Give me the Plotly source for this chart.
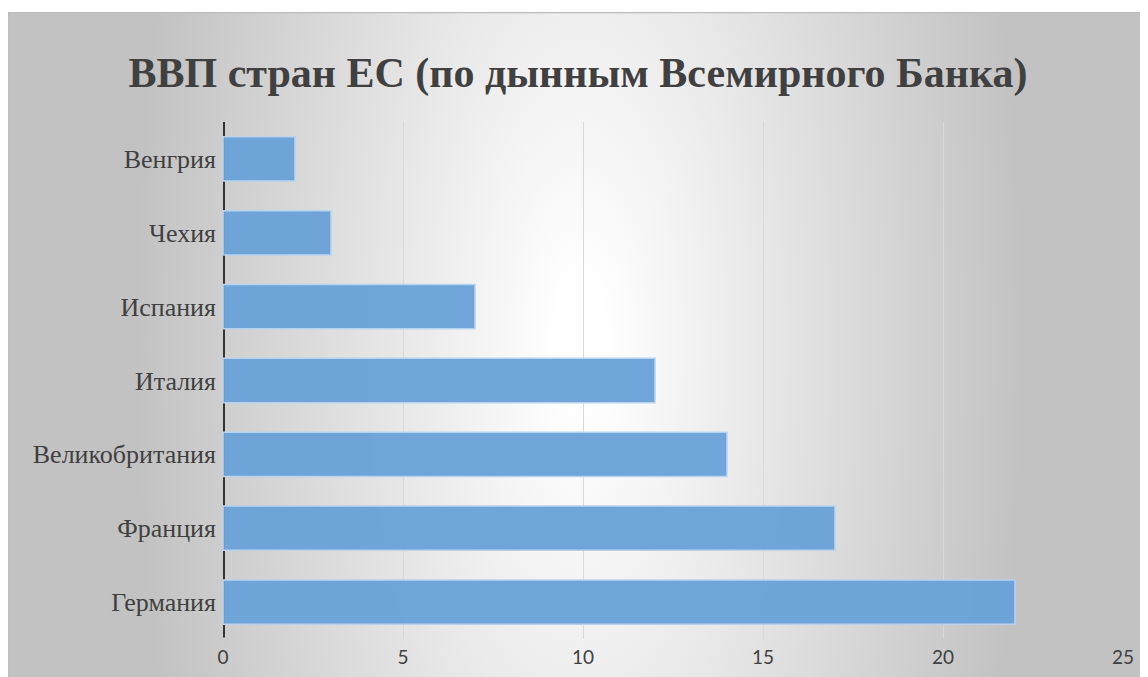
import base64
import plotly.graph_objects as go

countries = ["Германия", "Франция", "Великобритания", "Италия", "Испания", "Чехия", "Венгрия"]
gdp = [22, 17, 14, 12, 7, 3, 2]
x_ticks = [0, 5, 10, 15, 20, 25]
title_text = "ВВП стран ЕС (по дынным Всемирного Банка)"

W, H = 1148, 677
ML, MT, MB = 215, 114, 46
PW = 900
MR = W - ML - PW
PH = H - MT - MB

# background: elliptical radial gradient panel
BX, BY = 0, 4
BW, BH = W - BX, H - BY
svg = f'''<svg xmlns="http://www.w3.org/2000/svg" width="{BW}" height="{BH}" viewBox="0 0 {BW} {BH}">
<defs>
<radialGradient id="g" gradientUnits="userSpaceOnUse" cx="572" cy="330" r="445"
 gradientTransform="translate(572 330) scale(1 2.4) translate(-572 -330)">
<stop offset="0" stop-color="#ffffff"/>
<stop offset="0.05" stop-color="#ffffff"/>
<stop offset="1" stop-color="#c2c2c2"/>
</radialGradient>
</defs>
<rect x="0" y="0" width="{BW}" height="{BH}" fill="#c0c0c0"/>
<rect x="0" y="0" width="{BW}" height="{BH}" fill="url(#g)"/>
<rect x="0.5" y="0.5" width="{BW-1}" height="{BH}" fill="none" stroke="#bcbcbc" stroke-width="1.5"/>
</svg>'''
src = "data:image/svg+xml;base64," + base64.b64encode(svg.encode("utf-8")).decode("ascii")

fig = go.Figure()
fig.add_trace(go.Bar(
    y=countries, x=gdp, orientation="h",
    marker=dict(color="rgba(106,162,215,0.97)", line=dict(color="#b9d3ef", width=1.5)),
    width=0.6,
))

fig.add_layout_image(dict(
    source=src, xref="paper", yref="paper",
    x=(BX - ML) / PW, y=(H - MB - BY) / PH,
    sizex=BW / PW, sizey=BH / PH,
    xanchor="left", yanchor="top", sizing="stretch", layer="below",
))

fig.update_layout(
    width=W, height=H,
    margin=dict(l=ML, r=MR, t=MT, b=MB, pad=0),
    paper_bgcolor="white", plot_bgcolor="rgba(0,0,0,0)",
    showlegend=False,
    title=dict(text=title_text, x=570 / W, xref="container", xanchor="center",
               y=1 - 64 / H, yref="container", yanchor="middle",
               font=dict(family="Liberation Serif", size=42, color="#404040", weight="bold")),
    xaxis=dict(range=[0, 25], tickvals=x_ticks, ticktext=[str(v) for v in x_ticks],
               showgrid=True, gridcolor="#d9d9d9", gridwidth=1, zeroline=False,
               showline=False, ticks="", ticklabelstandoff=5,
               tickfont=dict(family="Lato", size=19, color="#404040")),
    yaxis=dict(showgrid=False, zeroline=False, showline=False, ticks="",
               ticklabelstandoff=6,
               tickfont=dict(family="Liberation Serif", size=26, color="#404040")),
    bargap=0.4,
)

# dark y-axis line at x=0
fig.add_shape(type="line", xref="x", yref="paper", x0=0, x1=0, y0=0.003, y1=1,
              line=dict(color="#333333", width=4), layer="below")

fig.write_html("out.html")
